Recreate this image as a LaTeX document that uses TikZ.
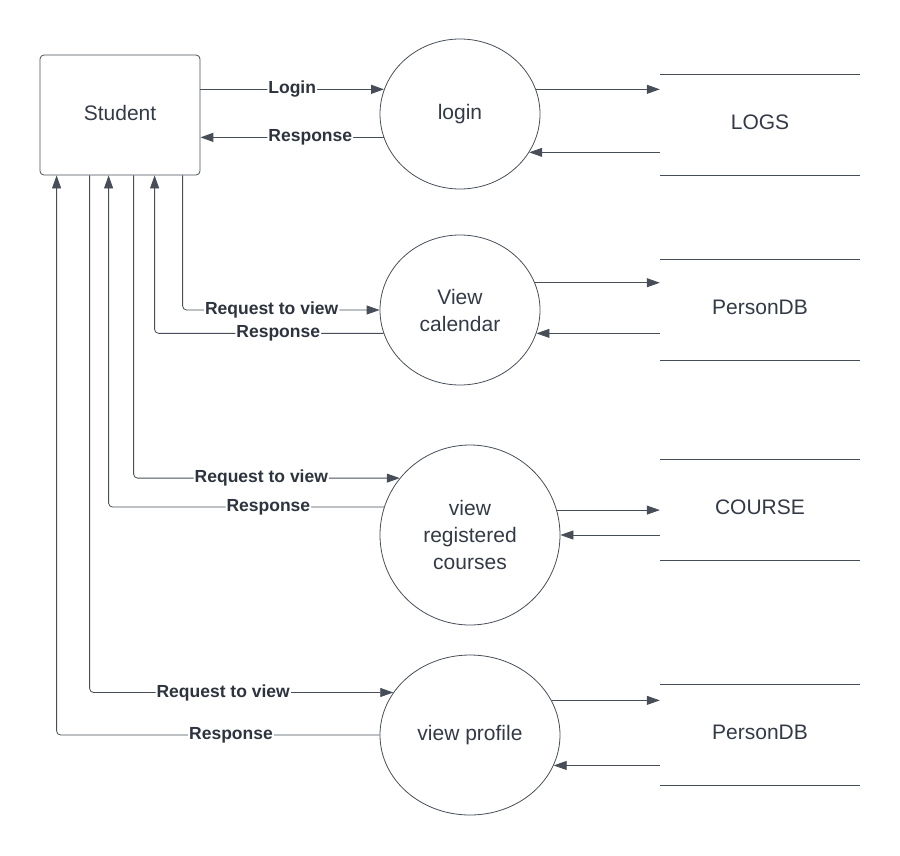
\documentclass[tikz,border=0pt]{standalone}
\usepackage{fontspec}
\setmainfont{Liberation Sans}
\usetikzlibrary{shapes.geometric,arrows.meta}
\definecolor{ink}{HTML}{333A45}
\tikzstyle{entity} = [draw=ink!90, line width=0.8pt, rectangle, rounded corners=4pt, minimum width=160pt, minimum height=120pt, text depth=4pt, text=ink, font=\fontsize{21}{27}\selectfont]
\tikzstyle{process} = [draw=ink!90, line width=0.8pt, ellipse, inner sep=0pt, align=center, text=ink, font=\fontsize{21}{27}\selectfont]
\tikzstyle{store} = [minimum width=200pt, minimum height=100pt, inner sep=0pt, text depth=6pt, text=ink, font=\fontsize{21}{27}\selectfont]
\tikzstyle{flow} = [draw=ink!90, line width=0.8pt, rounded corners=4pt, -{Triangle[length=13pt,width=9pt]}]
\tikzstyle{label} = [fill=white, inner sep=1pt, text=ink!90!black, font=\bfseries\fontsize{17.5}{19}\selectfont]

\begin{document}
\begin{tikzpicture}[x=1pt, y=-1pt]
		\useasboundingbox (0,0) rectangle (900,855);
		\node[entity] (student) at (120,115) {Student};

		\node[process, minimum width=160pt, minimum height=150pt] (login) at (460,114) {login};
		\node[process, minimum width=160pt, minimum height=150pt] (calendar) at (460,310) {View\\calendar};
		\node[process, minimum width=180pt, minimum height=180pt] (courses) at (470,535) {view\\registered\\courses};
		\node[process, minimum width=180pt, minimum height=160pt] (profile) at (470,735) {view profile};

		\node[store] (logs) at (760,125) {LOGS};
		\node[store] (persondb) at (760,310) {PersonDB};
		\node[store] (course) at (760,510) {COURSE};
		\node[store] (persondbb) at (760,735) {PersonDB};
		\draw[ink!90, line width=0.8pt] (logs.north west) -- (logs.north east) (logs.south west) -- (logs.south east);
		\draw[ink!90, line width=0.8pt] (persondb.north west) -- (persondb.north east) (persondb.south west) -- (persondb.south east);
		\draw[ink!90, line width=0.8pt] (course.north west) -- (course.north east) (course.south west) -- (course.south east);
		\draw[ink!90, line width=0.8pt] (persondbb.north west) -- (persondbb.north east) (persondbb.south west) -- (persondbb.south east);

		% student <-> processes
		\draw[flow, line width=1.4pt] (student.east |- login.162) -- node[label, pos=0.5] {Login} (login.162);
		\draw[flow, line width=1.4pt] (login.197) -- node[label, pos=0.4] {Response} (student.east |- login.197);
		\draw[flow] ([xshift=143pt]student.south west) |- node[label, pos=0.726] {Request to view} (calendar.180);
		\draw[flow] (calendar.197) -| node[label, pos=0.23] {Response} ([xshift=115pt]student.south west);
		\draw[flow] ([xshift=94pt]student.south west) |- node[label, pos=0.74] {Request to view} (courses.141.5);
		\draw[flow] (courses.162) -| node[label, pos=0.21] {Response} ([xshift=69pt]student.south west);
		\draw[flow] ([xshift=50pt]student.south west) |- node[label, pos=0.72] {Request to view} (profile.151);
		\draw[flow] (profile.180) -| node[label, pos=0.23] {Response} ([xshift=17pt]student.south west);

		% processes <-> stores
		\draw[flow] (login.18) -- (login.18 -| logs.west);
		\draw[flow] (login.331 -| logs.west) -- (login.331);
		\draw[flow] (calendar.20) -- (calendar.20 -| persondb.west);
		\draw[flow] (calendar.343 -| persondb.west) -- (calendar.343);
		\draw[flow] (courses.16) -- (courses.16 -| course.west);
		\draw[flow] (courses.0 -| course.west) -- (courses.0);
		\draw[flow] (profile.23) -- (profile.23 -| persondbb.west);
		\draw[flow] (profile.340 -| persondbb.west) -- (profile.340);
	\end{tikzpicture}
\end{document}
